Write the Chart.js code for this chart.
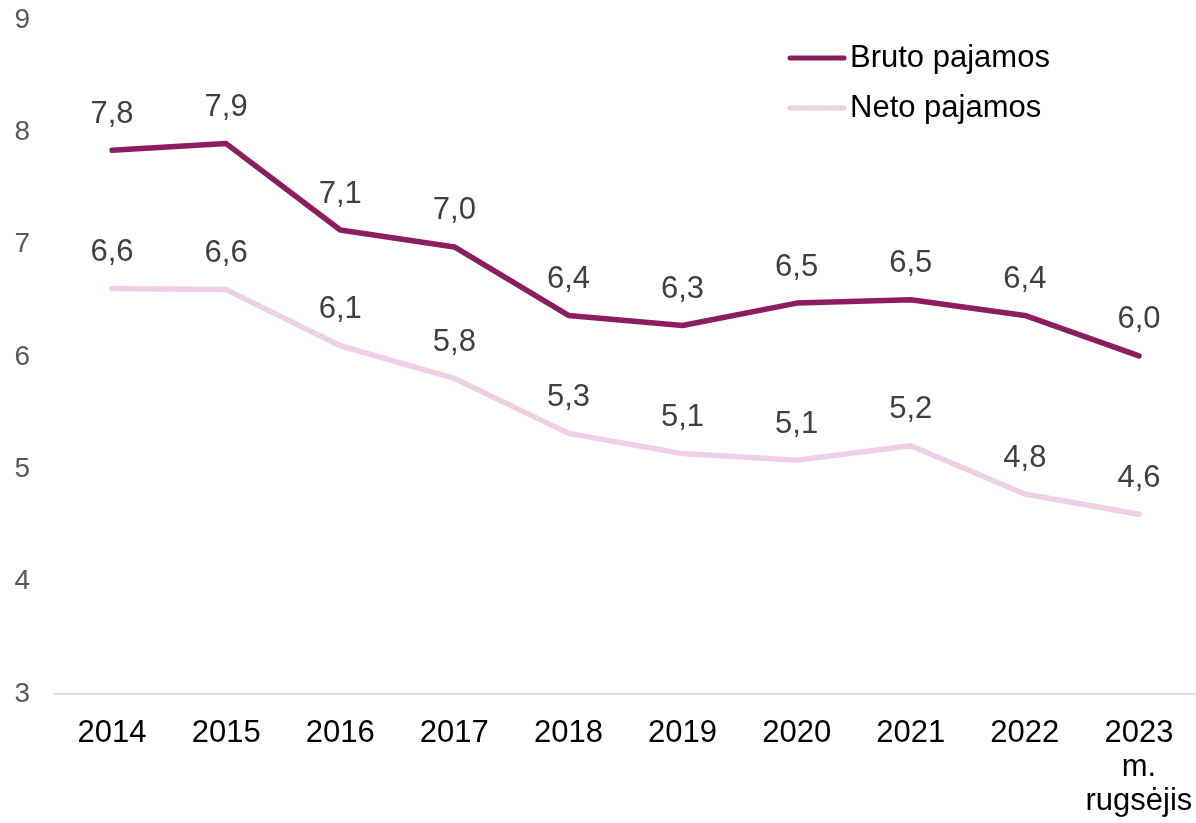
<!DOCTYPE html>
<html>
<head>
<meta charset="utf-8">
<script src="https://cdn.jsdelivr.net/npm/chart.js@4"></script>
<style>
  body { margin: 0; background: #fff; }
  #wrap { width: 1196px; height: 823px; }
</style>
</head>
<body>
<div id="wrap"><canvas id="line-chart"></canvas></div>
<script>
// data
var years = ["2014", "2015", "2016", "2017", "2018", "2019", "2020", "2021", "2022", ["2023", "m.", "rugsėjis"]];
var bruto = [7.84, 7.9, 7.13, 6.98, 6.37, 6.28, 6.48, 6.51, 6.37, 6.01];
var neto = [6.61, 6.6, 6.1, 5.81, 5.32, 5.14, 5.08, 5.21, 4.78, 4.6];
var yTicks = [3, 4, 5, 6, 7, 8, 9];

var FONT = "'Liberation Sans', Arial, sans-serif";

// value labels above every point
var valueLabels = {
    id: 'valueLabels',
    afterDatasetsDraw: function(chart) {
        var ctx = chart.ctx;
        ctx.save();
        ctx.font = "31px " + FONT;
        ctx.fillStyle = "#404040";
        ctx.textAlign = "center";
        ctx.textBaseline = "middle";
        chart.data.datasets.forEach(function(ds, i) {
            chart.getDatasetMeta(i).data.forEach(function(pt, j) {
                var txt = ds.data[j].toFixed(1).replace('.', ',');
                ctx.fillText(txt, pt.x, pt.y - 36);
            });
        });
        ctx.restore();
    }
};

// legend drawn inside the plot, top right
var innerLegend = {
    id: 'innerLegend',
    afterDraw: function(chart) {
        var ctx = chart.ctx;
        var x0 = chart.chartArea.right - 406;
        ctx.save();
        ctx.font = "31px " + FONT;
        ctx.textBaseline = "middle";
        ctx.lineCap = "round";
        chart.data.datasets.forEach(function(ds, i) {
            var y = 58 + i * 50;
            ctx.strokeStyle = ds.borderColor;
            ctx.lineWidth = 5;
            ctx.beginPath();
            ctx.moveTo(x0, y);
            ctx.lineTo(x0 + 54, y);
            ctx.stroke();
            ctx.fillStyle = "#000";
            ctx.fillText(ds.label, x0 + 60, y);
        });
        ctx.restore();
    }
};

var ctx = document.getElementById("line-chart").getContext("2d");
var line_chart = new Chart(ctx, {
    type: 'line',
    data: {
        labels: years,
        datasets: [{
            label: "Bruto pajamos",
            data: bruto,
            borderColor: "#8C1D5E",
            backgroundColor: "#8C1D5E",
            borderWidth: 5.5,
            pointRadius: 0,
            tension: 0,
            borderCapStyle: 'round',
            borderJoinStyle: 'round'
        }, {
            label: "Neto pajamos",
            data: neto,
            borderColor: "#EFCFE6",
            backgroundColor: "#EFCFE6",
            borderWidth: 5.5,
            pointRadius: 0,
            tension: 0,
            borderCapStyle: 'round',
            borderJoinStyle: 'round'
        }]
    },
    options: {
        responsive: true,
        maintainAspectRatio: false,
        animation: false,
        layout: { padding: 0 },
        plugins: {
            legend: { display: false },
            tooltip: { enabled: false }
        },
        scales: {
            x: {
                offset: true,
                grid: { display: false, drawTicks: false },
                border: { display: true, color: "#D9D9D9", width: 1.5 },
                ticks: {
                    color: "#000",
                    font: { family: FONT, size: 31, lineHeight: 1.09 },
                    padding: 23,
                    maxRotation: 0,
                    autoSkip: false
                },
                afterFit: function(s) {
                    s.height = 129;
                    s.paddingLeft = 0;
                    s.paddingRight = 0;
                }
            },
            y: {
                min: 3,
                max: 9,
                grid: { display: false, drawTicks: false },
                border: { display: false },
                afterBuildTicks: function(s) {
                    s.ticks = yTicks.map(function(v) { return { value: v }; });
                },
                ticks: {
                    color: "#595959",
                    font: { family: FONT, size: 28 },
                    padding: 25
                },
                afterFit: function(s) {
                    s.width = 55;
                    s.paddingTop = 20;
                    s.paddingBottom = 0;
                }
            }
        }
    },
    plugins: [valueLabels, innerLegend]
});
</script>
</body>
</html>
